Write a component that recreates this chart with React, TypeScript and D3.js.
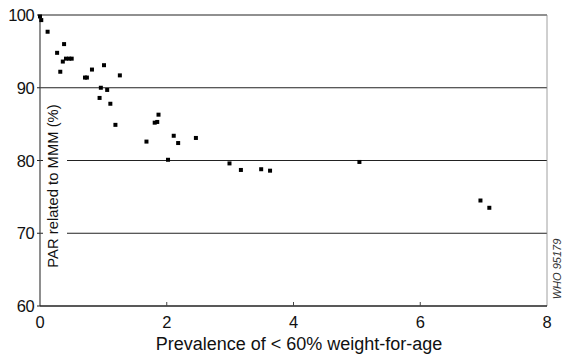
import { useRef, useEffect } from "react";
import * as d3 from "d3";

// Prevalence of < 60% weight-for-age (x) vs PAR related to MMM (%) (y)
const prevalence = [
  0.0, 0.02, 0.12, 0.27, 0.38, 0.32, 0.36, 0.41, 0.46, 0.5, 0.71, 0.74, 0.82,
  1.01, 1.26, 0.96, 1.06, 0.94, 1.11, 1.19, 1.68, 1.81, 1.85, 1.87, 2.02, 2.11,
  2.18, 2.46, 2.99, 3.17, 3.49, 3.63, 5.04, 6.95, 7.09,
];
const par = [
  99.8, 99.3, 97.7, 94.8, 96.0, 92.2, 93.6, 94.0, 94.0, 94.0, 91.4, 91.4, 92.5,
  93.1, 91.7, 90.0, 89.7, 88.6, 87.8, 84.9, 82.6, 85.2, 85.3, 86.3, 80.1, 83.4,
  82.4, 83.1, 79.6, 78.7, 78.8, 78.6, 79.8, 74.5, 73.5,
];
const xTicks = [0, 2, 4, 6, 8];
const yTicks = [60, 70, 80, 90, 100];
const gridValues = [70, 80, 90, 100];

const W = 563;
const H = 356;
const margin = { top: 15, right: 16, bottom: 50, left: 40 };

export default function App() {
  const svgRef = useRef<SVGSVGElement>(null);

  useEffect(() => {
    if (!svgRef.current) return;
    const svg = d3.select(svgRef.current);
    svg.selectAll("*").remove();

    const x = d3.scaleLinear().domain([0, 8]).range([margin.left, W - margin.right]);
    const y = d3.scaleLinear().domain([60, 100]).range([H - margin.bottom, margin.top]);
    const font = "'Liberation Sans', Arial, sans-serif";

    // horizontal rules
    for (const v of gridValues) {
      svg.append("line")
        .attr("x1", x(0)).attr("x2", x(8))
        .attr("y1", y(v)).attr("y2", y(v))
        .attr("stroke", "#222").attr("stroke-width", 1.2);
    }

    // right border (faint)
    svg.append("line")
      .attr("x1", x(8)).attr("x2", x(8))
      .attr("y1", y(100)).attr("y2", y(60))
      .attr("stroke", "#888").attr("stroke-width", 0.8);

    // white band behind the y title (rules are broken there)
    svg.append("rect")
      .attr("x", x(0) + 3)
      .attr("y", 96)
      .attr("width", 24)
      .attr("height", 182)
      .attr("fill", "#fff");

    // left & bottom axes
    svg.append("line")
      .attr("x1", x(0)).attr("x2", x(0))
      .attr("y1", y(100)).attr("y2", y(60))
      .attr("stroke", "#444").attr("stroke-width", 1.2);
    svg.append("line")
      .attr("x1", x(0)).attr("x2", x(8))
      .attr("y1", y(60)).attr("y2", y(60))
      .attr("stroke", "#222").attr("stroke-width", 1.3);

    // y ticks & labels
    for (const v of yTicks) {
      svg.append("line")
        .attr("x1", x(0) - 3).attr("x2", x(0))
        .attr("y1", y(v)).attr("y2", y(v))
        .attr("stroke", "#222");
      svg.append("text")
        .attr("x", x(0) - 6)
        .attr("y", y(v))
        .attr("text-anchor", "end")
        .attr("dominant-baseline", "central")
        .attr("font-family", font)
        .attr("font-size", 16.5)
        .attr("letter-spacing", -0.6)
        .attr("fill", "#111")
        .text(v);
    }

    // x ticks & labels
    for (const v of xTicks) {
      if (v > 0 && v < 8) {
        svg.append("line")
          .attr("x1", x(v)).attr("x2", x(v))
          .attr("y1", y(60)).attr("y2", y(60) - 4)
          .attr("stroke", "#444");
      }
      svg.append("text")
        .attr("x", x(v))
        .attr("y", y(60) + 16)
        .attr("text-anchor", "middle")
        .attr("dominant-baseline", "central")
        .attr("font-family", font)
        .attr("font-size", 16.5)
        .attr("fill", "#111")
        .text(v);
    }

    // points
    svg.append("g")
      .selectAll("rect")
      .data(prevalence.map((p, i) => [p, par[i]]))
      .join("rect")
      .attr("x", (d) => x(d[0]) - 2)
      .attr("y", (d) => y(d[1]) - 2)
      .attr("width", 4)
      .attr("height", 4)
      .attr("fill", "#000");

    // y axis title (inside plot)
    svg.append("text")
      .attr("transform", `translate(${x(0) + 13},186) rotate(-90)`)
      .attr("text-anchor", "middle")
      .attr("dominant-baseline", "central")
      .attr("font-family", font)
      .attr("font-size", 14.8)
      .attr("fill", "#111")
      .text("PAR related to MMM (%)");

    // x axis title
    svg.append("text")
      .attr("x", 299)
      .attr("y", H - 6)
      .attr("text-anchor", "middle")
      .attr("font-family", font)
      .attr("font-size", 18)
      .attr("fill", "#111")
      .text("Prevalence of < 60% weight-for-age");

    // figure code
    svg.append("text")
      .attr("transform", `translate(${W - 6},${y(60) - 37}) rotate(-90)`)
      .attr("text-anchor", "middle")
      .attr("dominant-baseline", "central")
      .attr("font-family", font)
      .attr("font-size", 11)
      .attr("font-style", "italic")
      .attr("fill", "#333")
      .text("WHO 95179");
  }, []);

  return (
    <svg
      ref={svgRef}
      width={W}
      height={H}
      viewBox={`0 0 ${W} ${H}`}
      style={{ position: "absolute", left: 0, top: 0, background: "#fff" }}
    />
  );
}
